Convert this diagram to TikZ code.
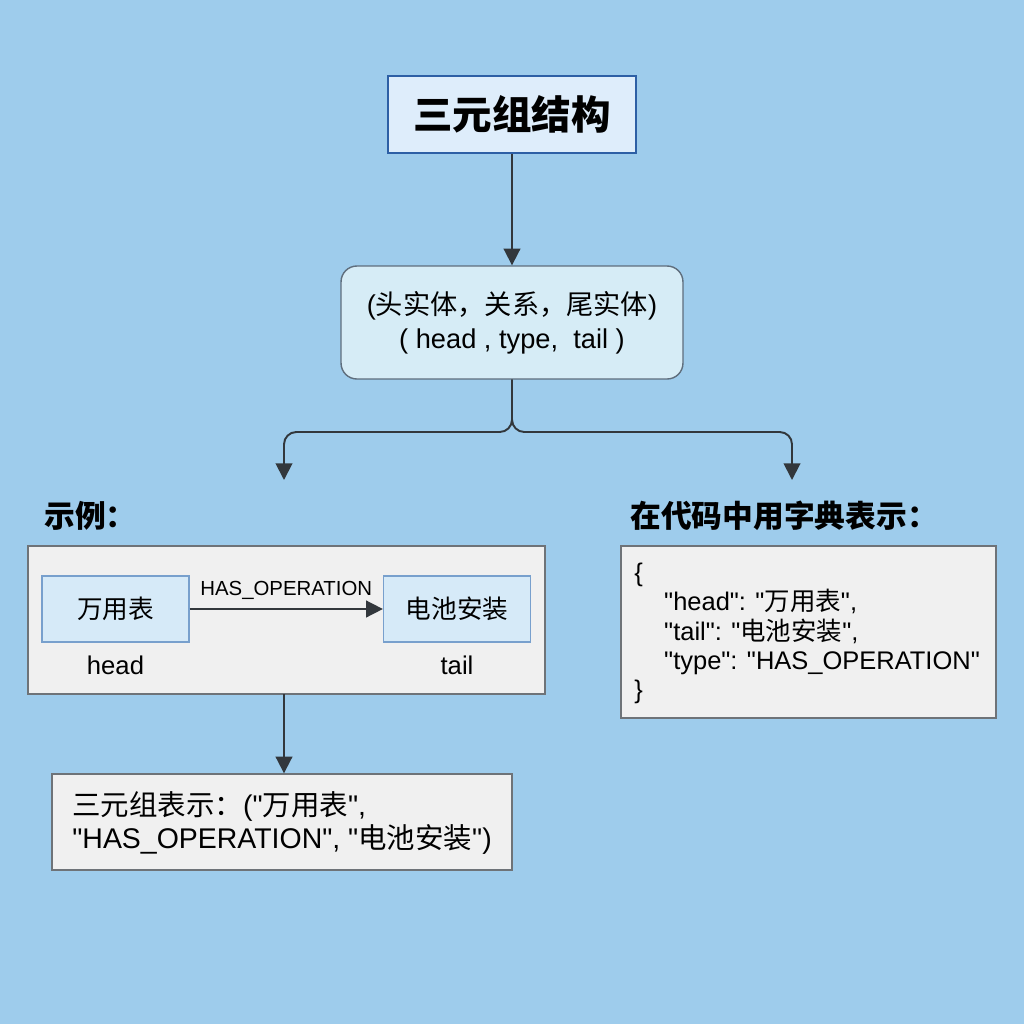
\documentclass[tikz,border=0pt]{standalone}
\usepackage{fontspec}
\setmainfont{Liberation Sans}[Ligatures=TeXOff]
\newfontfamily\cjk{Noto Sans CJK SC}
\usetikzlibrary{arrows.meta}
\definecolor{bg}{RGB}{158,204,236}
\definecolor{titlefill}{RGB}{222,237,251}
\definecolor{titledraw}{RGB}{45,95,165}
\definecolor{rfill}{RGB}{214,236,246}
\definecolor{rdraw}{RGB}{95,110,125}
\definecolor{gfill}{RGB}{240,240,240}
\definecolor{gdraw}{RGB}{110,115,120}
\definecolor{ifill}{RGB}{214,234,248}
\definecolor{idraw}{RGB}{120,160,205}
\definecolor{arrc}{RGB}{50,55,60}
\tikzset{
  titlebox/.style={draw=titledraw, fill=titlefill, line width=1pt, minimum width=4.96cm, minimum height=1.54cm, inner sep=0pt},
  roundbox/.style={draw=rdraw, fill=rfill, line width=0.8pt, rounded corners=9pt, minimum width=6.84cm, minimum height=2.26cm, align=center, inner sep=0pt},
  graybox/.style={draw=gdraw, fill=gfill, line width=0.8pt, inner sep=0pt},
  innerbox/.style={draw=idraw, fill=ifill, line width=0.7pt, minimum width=2.94cm, minimum height=1.32cm, inner sep=0pt},
  arr/.style={draw=arrc, line width=1.1pt, -{Triangle[length=9.5pt,width=9.5pt]}},
  heading/.style={anchor=west, inner sep=0pt, font=\fontsize{17.5pt}{20pt}\selectfont\cjk\bfseries},
}
\begin{document}
\begin{tikzpicture}[x=0.02cm,y=-0.02cm]
\fill[bg] (0,0) rectangle (1024,1024);
\useasboundingbox (0,0) rectangle (1024,1024);

\node[titlebox, font=\fontsize{22.5pt}{26pt}\selectfont\cjk\bfseries] (title) at (512,114.5) {三元组结构};

\node[roundbox, font=\fontsize{15.5pt}{19.3pt}\selectfont] (rbox) at (512,322.5)
  {({\cjk 头实体，关系，尾实体})\\( head , type,~ tail )};

\draw[arr] (title.south) -- (rbox.north);

\coordinate (split) at (512,432);
\coordinate (lend) at (284,480);
\coordinate (rend) at (792,480);
\draw[arr, rounded corners=7pt] (rbox.south) -- (split) -| (lend);
\draw[arr, rounded corners=7pt] (rbox.south) -- (split) -| (rend);

\node[heading] (exlabel) at (44,516) {示例：};
\node[heading] (codelabel) at (630,516) {在代码中用字典表示：};

\node[graybox, minimum width=10.34cm, minimum height=2.96cm] (ex) at (286.5,620) {};
\node[innerbox, font=\fontsize{14.6pt}{17pt}\selectfont\cjk] (h) at (115.5,609) {万用表};
\node[innerbox, font=\fontsize{14.6pt}{17pt}\selectfont\cjk] (t) at (457,609) {电池安装};
\draw[arr, line width=0.9pt] (h.east) -- node[above=5pt, inner sep=0pt, font=\fontsize{11.6pt}{13pt}\selectfont] (rel) {HAS\_OPERATION} (t.west);
\node[font=\fontsize{14.6pt}{17pt}\selectfont] (hl) at (115.5,665) {head};
\node[font=\fontsize{14.6pt}{17pt}\selectfont] (tl) at (457,665) {tail};

\node[graybox, minimum width=9.2cm, minimum height=1.92cm] (bot) at (282,822) {};
\node[anchor=west, align=left, inner sep=0pt, font=\fontsize{16.2pt}{19.3pt}\selectfont] (bottext) at (72,823)
  {{\cjk 三元组表示：}("{\cjk 万用表}",\\"HAS\_OPERATION", "{\cjk 电池安装}")};
\coordinate (exs) at (284,694);
\draw[arr] (exs) -- (exs |- bot.north);

\node[graybox, minimum width=7.5cm, minimum height=3.44cm] (code) at (808.5,632) {};
\node[anchor=west, align=left, inner sep=0pt, font=\fontsize{14.5pt}{16.6pt}\selectfont] (codetext) at (634,633.5)
  {\{\\
   \hspace*{17pt}"head": "{\cjk 万用表}",\\
   \hspace*{17pt}"tail": "{\cjk 电池安装}",\\
   \hspace*{17pt}"type": "HAS\_OPERATION"\\
   \}};
\end{tikzpicture}
\end{document}
